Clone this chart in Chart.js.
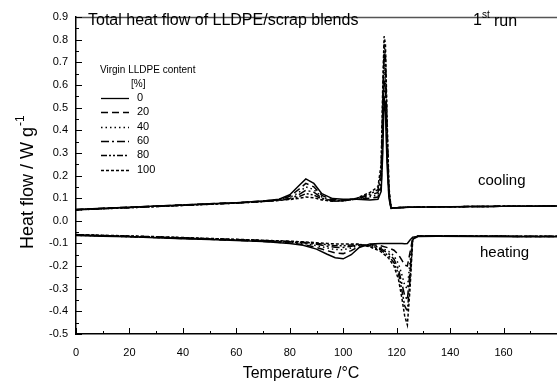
<!DOCTYPE html>
<html>
<head>
<meta charset="utf-8">
<script src="https://cdn.jsdelivr.net/npm/chart.js@4.4.1/dist/chart.umd.min.js"></script>
<style>
  html, body { margin: 0; padding: 0; background: #fff; }
</style>
</head>
<body>
<canvas id="chart" width="557" height="385"></canvas>
<script>
// blends: virgin LLDPE content [%]
const blends = ['0', '20', '40', '60', '80', '100'];
const dashes = [[], [7, 4], [1.5, 3], [8, 3, 2, 3], [6, 2, 2, 2, 2, 2], [3, 2]];

// cooling scans
const coolT = [0, 10, 20, 30, 40, 50, 60, 70, 76, 80, 83, 86, 89, 92, 96, 100, 105, 110, 113, 114.2, 114.8, 115.3, 115.8, 116.4, 117.1, 117.9, 120, 125, 140, 160, 180];
const cool0   = [0.050, 0.055, 0.060, 0.065, 0.070, 0.075, 0.080, 0.087, 0.095, 0.115, 0.150, 0.185, 0.165, 0.120, 0.098, 0.095, 0.095, 0.092, 0.095, 0.130, 0.300, 0.550, 0.480, 0.250, 0.100, 0.055, 0.058, 0.060, 0.062, 0.064, 0.065];
const cool20  = [0.050, 0.055, 0.060, 0.065, 0.070, 0.075, 0.080, 0.087, 0.094, 0.108, 0.135, 0.165, 0.150, 0.112, 0.093, 0.092, 0.095, 0.100, 0.105, 0.150, 0.360, 0.620, 0.560, 0.300, 0.110, 0.055, 0.058, 0.060, 0.062, 0.064, 0.065];
const cool40  = [0.049, 0.054, 0.059, 0.064, 0.069, 0.074, 0.079, 0.086, 0.093, 0.103, 0.122, 0.150, 0.138, 0.105, 0.090, 0.090, 0.096, 0.106, 0.115, 0.170, 0.420, 0.680, 0.620, 0.340, 0.120, 0.055, 0.058, 0.060, 0.062, 0.064, 0.065];
const cool60  = [0.049, 0.054, 0.059, 0.064, 0.069, 0.074, 0.079, 0.086, 0.092, 0.099, 0.112, 0.135, 0.126, 0.100, 0.088, 0.088, 0.097, 0.112, 0.125, 0.195, 0.480, 0.740, 0.680, 0.380, 0.130, 0.056, 0.058, 0.060, 0.062, 0.064, 0.065];
const cool80  = [0.048, 0.053, 0.058, 0.063, 0.068, 0.073, 0.078, 0.085, 0.091, 0.096, 0.104, 0.120, 0.114, 0.096, 0.087, 0.088, 0.099, 0.118, 0.137, 0.220, 0.540, 0.780, 0.730, 0.420, 0.140, 0.056, 0.058, 0.060, 0.062, 0.064, 0.065];
const cool100 = [0.048, 0.053, 0.058, 0.063, 0.068, 0.073, 0.078, 0.085, 0.090, 0.094, 0.098, 0.105, 0.102, 0.092, 0.086, 0.088, 0.100, 0.125, 0.150, 0.250, 0.600, 0.815, 0.780, 0.460, 0.150, 0.057, 0.058, 0.060, 0.062, 0.064, 0.065];

// heating scans
const heatT = [0, 10, 20, 30, 40, 50, 60, 70, 80, 85, 90, 94, 97, 100, 103, 106, 110, 114, 117, 119, 120.7, 122, 123, 124, 125, 126, 128, 135, 150, 165, 180];
const heat0   = [-0.065, -0.068, -0.071, -0.075, -0.079, -0.083, -0.087, -0.092, -0.100, -0.108, -0.125, -0.148, -0.163, -0.168, -0.150, -0.118, -0.102, -0.100, -0.100, -0.100, -0.100, -0.100, -0.101, -0.100, -0.085, -0.072, -0.069, -0.068, -0.069, -0.070, -0.070];
const heat20  = [-0.063, -0.066, -0.070, -0.074, -0.078, -0.082, -0.086, -0.091, -0.098, -0.105, -0.118, -0.132, -0.142, -0.145, -0.132, -0.112, -0.105, -0.110, -0.120, -0.130, -0.150, -0.175, -0.195, -0.200, -0.140, -0.075, -0.068, -0.067, -0.068, -0.069, -0.069];
const heat40  = [-0.064, -0.067, -0.070, -0.073, -0.077, -0.081, -0.085, -0.089, -0.095, -0.100, -0.110, -0.120, -0.127, -0.128, -0.120, -0.108, -0.108, -0.118, -0.135, -0.155, -0.190, -0.240, -0.285, -0.300, -0.180, -0.078, -0.068, -0.067, -0.068, -0.069, -0.069];
const heat60  = [-0.062, -0.066, -0.069, -0.072, -0.076, -0.080, -0.084, -0.088, -0.093, -0.097, -0.104, -0.112, -0.117, -0.118, -0.112, -0.106, -0.110, -0.122, -0.145, -0.170, -0.215, -0.280, -0.330, -0.350, -0.220, -0.080, -0.067, -0.066, -0.067, -0.068, -0.068];
const heat80  = [-0.062, -0.065, -0.068, -0.071, -0.075, -0.079, -0.083, -0.087, -0.092, -0.095, -0.100, -0.106, -0.110, -0.110, -0.107, -0.104, -0.112, -0.128, -0.155, -0.185, -0.235, -0.310, -0.375, -0.400, -0.260, -0.082, -0.067, -0.066, -0.067, -0.068, -0.068];
const heat100 = [-0.061, -0.064, -0.067, -0.070, -0.074, -0.078, -0.082, -0.086, -0.090, -0.093, -0.097, -0.100, -0.102, -0.103, -0.102, -0.103, -0.115, -0.135, -0.165, -0.200, -0.260, -0.345, -0.420, -0.460, -0.300, -0.085, -0.067, -0.066, -0.067, -0.068, -0.068];

const coolY = [cool0, cool20, cool40, cool60, cool80, cool100];
const heatY = [heat0, heat20, heat40, heat60, heat80, heat100];

// axis ticks
const xTicks = [0, 20, 40, 60, 80, 100, 120, 140, 160];
const xMinor = [10, 30, 50, 70, 90, 110, 130, 150, 170];
const yTicks = [-0.5, -0.4, -0.3, -0.2, -0.1, 0, 0.1, 0.2, 0.3, 0.4, 0.5, 0.6, 0.7, 0.8, 0.9];
const yMinor = [-0.45, -0.35, -0.25, -0.15, -0.05, 0.05, 0.15, 0.25, 0.35, 0.45, 0.55, 0.65, 0.75, 0.85];

const FONT = '"Liberation Sans", Arial, sans-serif';

const datasets = [];
blends.forEach((b, i) => {
  const style = { borderColor: '#000', borderWidth: 1.5, borderDash: dashes[i], pointRadius: 0, tension: 0, fill: false };
  datasets.push({ label: b + ' cooling', data: coolT.map((t, k) => ({ x: t, y: coolY[i][k] })), ...style });
  datasets.push({ label: b + ' heating', data: heatT.map((t, k) => ({ x: t, y: heatY[i][k] })), ...style });
});

const decor = {
  id: 'decor',
  afterDraw(chart) {
    const { ctx, chartArea: a, scales: { x, y } } = chart;
    ctx.save();
    // top frame line
    ctx.strokeStyle = '#555';
    ctx.lineWidth = 1.5;
    ctx.beginPath();
    ctx.moveTo(a.left, a.top + 0.5);
    ctx.lineTo(a.right, a.top + 0.5);
    ctx.stroke();

    // inward ticks
    ctx.strokeStyle = '#000';
    ctx.lineWidth = 1;
    ctx.beginPath();
    xTicks.forEach(v => { const p = Math.round(x.getPixelForValue(v)) + 0.5; ctx.moveTo(p, a.bottom); ctx.lineTo(p, a.bottom - 6); });
    xMinor.forEach(v => { const p = Math.round(x.getPixelForValue(v)) + 0.5; ctx.moveTo(p, a.bottom); ctx.lineTo(p, a.bottom - 3); });
    yTicks.forEach(v => { const p = Math.round(y.getPixelForValue(v)) + 0.5; ctx.moveTo(a.left, p); ctx.lineTo(a.left + 6, p); });
    yMinor.forEach(v => { const p = Math.round(y.getPixelForValue(v)) + 0.5; ctx.moveTo(a.left, p); ctx.lineTo(a.left + 3, p); });
    ctx.stroke();

    // texts
    ctx.fillStyle = '#000';
    ctx.textBaseline = 'middle';
    ctx.textAlign = 'left';
    ctx.font = '16px ' + FONT;
    ctx.fillText('Total heat flow of LLDPE/scrap blends', 88, 21);
    ctx.fillText('1', 473, 21);
    ctx.fillText('run', 494, 22);
    ctx.font = '10px ' + FONT;
    ctx.fillText('st', 482, 15);
    ctx.font = '15px ' + FONT;
    ctx.fillText('cooling', 478, 181);
    ctx.fillText('heating', 480, 253);

    // legend
    ctx.font = '10px ' + FONT;
    ctx.fillText('Virgin LLDPE content', 100, 70);
    ctx.fillText('[%]', 131, 84);
    ctx.font = '11px ' + FONT;
    blends.forEach((b, i) => {
      const ly = 98 + i * 14.3;
      ctx.setLineDash(dashes[i]);
      ctx.lineWidth = 1.3;
      ctx.beginPath();
      ctx.moveTo(101, Math.round(ly) + 0.5);
      ctx.lineTo(129, Math.round(ly) + 0.5);
      ctx.stroke();
      ctx.setLineDash([]);
      ctx.fillText(b, 137, ly);
    });

    // axis titles
    ctx.font = '16px ' + FONT;
    ctx.textAlign = 'center';
    ctx.fillText('Temperature /°C', 301, 374);
    ctx.translate(28, 182);
    ctx.rotate(-Math.PI / 2);
    ctx.textAlign = 'left';
    ctx.font = '18px ' + FONT;
    const main = 'Heat flow / W g';
    const w = ctx.measureText(main).width;
    ctx.fillText(main, -(w + 12) / 2, 0);
    ctx.font = '12px ' + FONT;
    ctx.fillText('-1', -(w + 12) / 2 + w + 1, -7);
    ctx.restore();
  }
};

new Chart(document.getElementById('chart'), {
  type: 'line',
  data: { datasets },
  options: {
    responsive: false,
    animation: false,
    layout: { padding: { top: 17, right: 0, left: 0, bottom: 0 } },
    plugins: { legend: { display: false }, tooltip: { enabled: false } },
    scales: {
      x: {
        type: 'linear', min: 0, max: 180,
        afterBuildTicks: s => { s.ticks = xTicks.map(v => ({ value: v })); },
        afterFit: s => { s.height = 51; },
        grid: { display: false, drawTicks: false },
        border: { display: true, color: '#000', width: 1.5 },
        ticks: { color: '#000', padding: 12, maxRotation: 0, font: { family: FONT, size: 11 } }
      },
      y: {
        type: 'linear', min: -0.5, max: 0.9,
        afterBuildTicks: s => { s.ticks = yTicks.map(v => ({ value: v })); },
        afterFit: s => { s.width = 76; },
        grid: { display: false, drawTicks: false },
        border: { display: true, color: '#000', width: 1.5 },
        ticks: { color: '#000', padding: 8, font: { family: FONT, size: 11 }, callback: v => v.toFixed(1) }
      }
    }
  },
  plugins: [decor]
});
</script>
</body>
</html>
